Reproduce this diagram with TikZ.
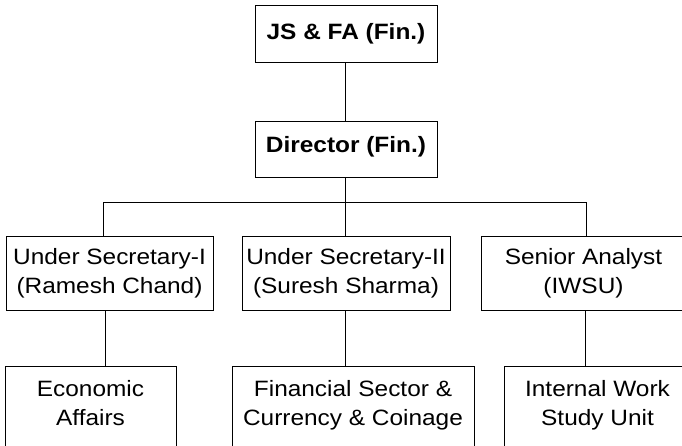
\documentclass[tikz,border=0pt]{standalone}
\usepackage{fontspec}
\setmainfont{Liberation Sans}[FakeStretch=1.1]
\begin{document}
\begin{tikzpicture}[x=1pt,y=-1pt,
  box/.style={draw=black, line width=1pt, inner sep=0pt, align=center,
    font=\fontsize{22.2}{29}\selectfont},
  bold/.style={font=\fontsize{22.2}{29}\selectfont\bfseries},
  lowbox/.style={box, minimum height=84pt, anchor=north, text depth=12pt},
  conn/.style={draw=black, line width=1pt}]
\useasboundingbox (0,0) rectangle (682,445);
\fill[white] (0,0) rectangle (682,445);
\clip (0,0) rectangle (682,445);
% top
\node[box, bold, minimum width=182pt, minimum height=57pt] (js) at (346,33.5) {JS \& FA (Fin.)};
\node[box, bold, minimum width=182pt, minimum height=56pt, text depth=10pt] (dir) at (346,149) {Director (Fin.)};
% middle row
\node[box, minimum width=207pt, minimum height=74pt] (us1) at (109.5,273) {Under Secretary-I\\(Ramesh Chand)};
\node[box, minimum width=208pt, minimum height=74pt] (us2) at (346,273) {Under Secretary-II\\(Suresh Sharma)};
\node[box, minimum width=205pt, minimum height=74pt] (sa) at (583.5,273) {Senior Analyst\\(IWSU)};
% bottom row
\node[lowbox, minimum width=171pt] (ea) at (90.5,366) {Economic\\Affairs};
\node[lowbox, minimum width=242pt] (fs) at (353,366) {Financial Sector \&\\Currency \& Coinage};
\node[lowbox, minimum width=187pt] (iw) at (597.5,366) {Internal Work\\Study Unit};
% connectors
\coordinate (b1) at (103,202);
\coordinate (b2) at (345,202);
\coordinate (b3) at (586,202);
\coordinate (l1) at (105,0);
\coordinate (l2) at (345,0);
\coordinate (l3) at (585,0);
\draw[conn] (l2 |- js.south) -- (l2 |- dir.north);
\draw[conn] (l2 |- dir.south) -- (b2);
\draw[conn] (b1) -- (b3);
\draw[conn] (b1) -- (b1 |- us1.north);
\draw[conn] (b2) -- (b2 |- us2.north);
\draw[conn] (b3) -- (b3 |- sa.north);
\draw[conn] (l1 |- us1.south) -- (l1 |- ea.north);
\draw[conn] (l2 |- us2.south) -- (l2 |- fs.north);
\draw[conn] (l3 |- sa.south) -- (l3 |- iw.north);
\end{tikzpicture}
\end{document}
